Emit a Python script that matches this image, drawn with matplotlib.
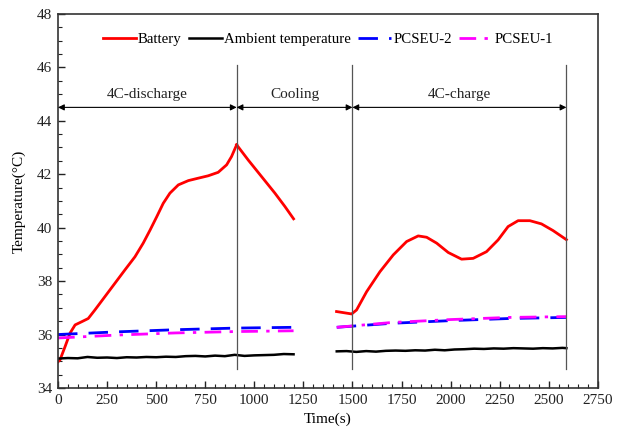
import matplotlib
matplotlib.use("Agg")
import matplotlib.pyplot as plt
from matplotlib.ticker import MultipleLocator

plt.rcParams['font.family'] = ['Liberation Serif', 'DejaVu Serif']
plt.rcParams['font.size'] = 11

# ---------------- data ----------------
bat1_t = [0, 10, 36, 61, 87, 121, 154, 188, 239, 290, 341, 392, 434, 469, 503, 536, 570,
          613, 664, 714, 765, 816, 859, 884, 910]
bat1_y = [34.98, 35.05, 35.55, 36.05, 36.36, 36.48, 36.6, 36.92, 37.42, 37.92, 38.42, 38.91,
          39.42, 39.91, 40.41, 40.91, 41.29, 41.6, 41.76, 41.85, 41.94, 42.07, 42.35, 42.66, 43.1]
cool_t = [910, 969, 1037, 1105, 1156, 1200]
cool_y = [43.1, 42.53, 41.91, 41.29, 40.79, 40.33]
bat2_t = [1419, 1496, 1521, 1572, 1640, 1708, 1776, 1835, 1878, 1929, 1988, 2056, 2115,
          2183, 2242, 2293, 2344, 2404, 2463, 2522, 2590]
bat2_y = [36.86, 36.77, 36.92, 37.6, 38.35, 38.98, 39.48, 39.69, 39.64, 39.42, 39.07, 38.82,
          38.85, 39.1, 39.54, 40.04, 40.26, 40.26, 40.14, 39.89, 39.55]

amb1_t = list(range(0, 1201, 50))
amb1_y = [35.10, 35.12, 35.11, 35.16, 35.13, 35.14, 35.12, 35.15, 35.14, 35.16, 35.15, 35.17,
          35.16, 35.19, 35.20, 35.18, 35.21, 35.19, 35.24, 35.20, 35.22, 35.23, 35.24, 35.27, 35.26]
amb2_t = list(range(1420, 2571, 50)) + [2590]
amb2_y = [35.37, 35.38, 35.35, 35.38, 35.36, 35.39, 35.40, 35.39, 35.41, 35.40, 35.43, 35.41,
          35.44, 35.45, 35.47, 35.46, 35.48, 35.47, 35.49, 35.48, 35.47, 35.49, 35.48, 35.50, 35.49]

p2_1_t = [0, 300, 600, 900, 1200]
p2_1_y = [36.0, 36.1, 36.18, 36.24, 36.27]
p2_2_t = [1420, 1700, 2000, 2300, 2590]
p2_2_y = [36.27, 36.42, 36.52, 36.6, 36.64]
p1_1_t = [0, 300, 600, 900, 1200]
p1_1_y = [35.87, 35.98, 36.06, 36.11, 36.14]
p1_2_t = [1420, 1700, 2000, 2300, 2590]
p1_2_y = [36.27, 36.45, 36.56, 36.64, 36.67]

phase_bounds = [0, 910, 1500, 2590]
phase_labels = ["4C-discharge", "Cooling", "4C-charge"]

# ---------------- plot ----------------
fig = plt.figure(figsize=(6.24, 4.33), dpi=100)
ax = fig.add_axes([0.093, 0.104, 0.865, 0.864])

red = '#ff0000'
ax.plot(bat1_t, bat1_y, color=red, lw=2, label='Battery')
ax.plot(cool_t, cool_y, color=red, lw=2)
ax.plot(bat2_t, bat2_y, color=red, lw=2)
ax.plot(amb1_t, amb1_y, color='black', lw=1.8, label='Ambient temperature')
ax.plot(amb2_t, amb2_y, color='black', lw=1.8)
ax.plot(p2_1_t, p2_1_y, color='#0000ff', lw=2, dashes=(7, 4), label='PCSEU-2')
ax.plot(p2_2_t, p2_2_y, color='#0000ff', lw=2, dashes=(7, 4))
ax.plot(p1_1_t, p1_1_y, color='#ff00ff', lw=2, dashes=(6, 3, 1.2, 3), label='PCSEU-1')
ax.plot(p1_2_t, p1_2_y, color='#ff00ff', lw=2, dashes=(6, 3, 1.2, 3))

for xb in phase_bounds[1:]:
    ax.plot([xb, xb], [34.7, 46.1], color='#555555', lw=0.9)

for i, lab in enumerate(phase_labels):
    a, b = phase_bounds[i], phase_bounds[i + 1]
    ax.annotate('', xy=(a, 44.5), xytext=(b, 44.5),
                arrowprops=dict(arrowstyle='<|-|>', color='black', lw=0.8,
                                mutation_scale=9, shrinkA=0, shrinkB=0))
    ax.text((a + b) / 2, 44.75, lab, ha='center', va='bottom', fontsize=11, color='#222222')

ax.set_xlim(0, 2750)
ax.set_ylim(34, 48)
ax.xaxis.set_major_locator(MultipleLocator(250))
ax.xaxis.set_minor_locator(MultipleLocator(50))
ax.yaxis.set_major_locator(MultipleLocator(2))
ax.yaxis.set_minor_locator(MultipleLocator(0.5))
ax.tick_params(which='both', direction='in', top=False, right=False, labelsize=11, colors='#222222')
ax.tick_params(which='major', length=5, width=1, pad=4)
ax.tick_params(which='minor', length=3, width=0.8)
for s in ax.spines.values():
    s.set_linewidth(1.2)
    s.set_color('#333333')

ax.set_xlabel('Time(s)', fontsize=11, labelpad=4)
ax.set_ylabel('Temperature(°C)', fontsize=11, labelpad=8)

ax.legend(loc='upper center', bbox_to_anchor=(0.5, 0.985), ncol=4, frameon=False,
          handlelength=2.2, handletextpad=0.15, columnspacing=0.5, fontsize=10.7)

fig.savefig('out.png', dpi=100)
